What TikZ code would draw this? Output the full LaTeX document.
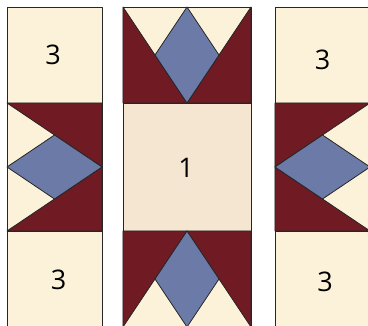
\documentclass[tikz,border=0pt]{standalone}
\usepackage{xcolor}
\usepackage{fontspec}
\setsansfont{Open Sans}
\usepackage{tikz}
\usetikzlibrary{positioning}
\definecolor{cream}{RGB}{252,242,218}
\definecolor{sand}{RGB}{245,230,209}
\definecolor{wine}{RGB}{112,26,36}
\definecolor{slate}{RGB}{107,122,166}

\begin{document}
\begin{tikzpicture}[x=1pt, y=-1pt,
        every node/.style={font=\sffamily\fontsize{27}{30}\selectfont, inner sep=0pt},
        patch/.style={draw=black!85, line width=0.8pt, line join=round},
        bg/.style={patch, fill=cream},
        goose/.style={patch, fill=wine},
        gem/.style={patch, fill=slate}]
      \useasboundingbox (0,0) rectangle (368,326);
      \clip (0,0) rectangle (368,326);
      % side columns: plain squares
      \foreach \xa/\xb in {7/102, 275/370} {
        \draw[bg] (\xa,7) rectangle (\xb,103);
        \draw[bg] (\xa,231) rectangle (\xb,327);
        \draw[bg] (\xa,103) rectangle (\xb,231);
      }
      % left geese, pointing right
      \draw[goose] (7,103) -- (102,103) -- (102,167) -- cycle;
      \draw[goose] (7,231) -- (102,231) -- (102,167) -- cycle;
      \draw[gem] (7,167) -- (54.5,135) -- (102,167) -- (54.5,199) -- cycle;
      % right geese, pointing left
      \draw[goose] (370,103) -- (275,103) -- (275,167) -- cycle;
      \draw[goose] (370,231) -- (275,231) -- (275,167) -- cycle;
      \draw[gem] (275,167) -- (322.5,135) -- (370,167) -- (322.5,199) -- cycle;
      % middle column
      \draw[bg] (123,7) rectangle (251,103);
      \draw[goose] (123,7) -- (187,103) -- (123,103) -- cycle;
      \draw[goose] (251,7) -- (187,103) -- (251,103) -- cycle;
      \draw[gem] (187,7) -- (155,55) -- (187,103) -- (219,55) -- cycle;
      \draw[patch, fill=sand] (123,103) rectangle (251,231);
      \draw[bg] (123,231) rectangle (251,327);
      \draw[goose] (123,231) -- (187,231) -- (123,327) -- cycle;
      \draw[goose] (251,231) -- (187,231) -- (251,327) -- cycle;
      \draw[gem] (187,231) -- (155,279) -- (187,327) -- (219,279) -- cycle;
      % labels
      \node (topleft) at (53,55) {3};
      \node (topright) at (322.5,60) {3};
      \node (centre) at (186,168) {1};
      \node (botleft) at (58.5,279.5) {3};
      \node (botright) at (325,282) {3};
    \end{tikzpicture}
\end{document}
